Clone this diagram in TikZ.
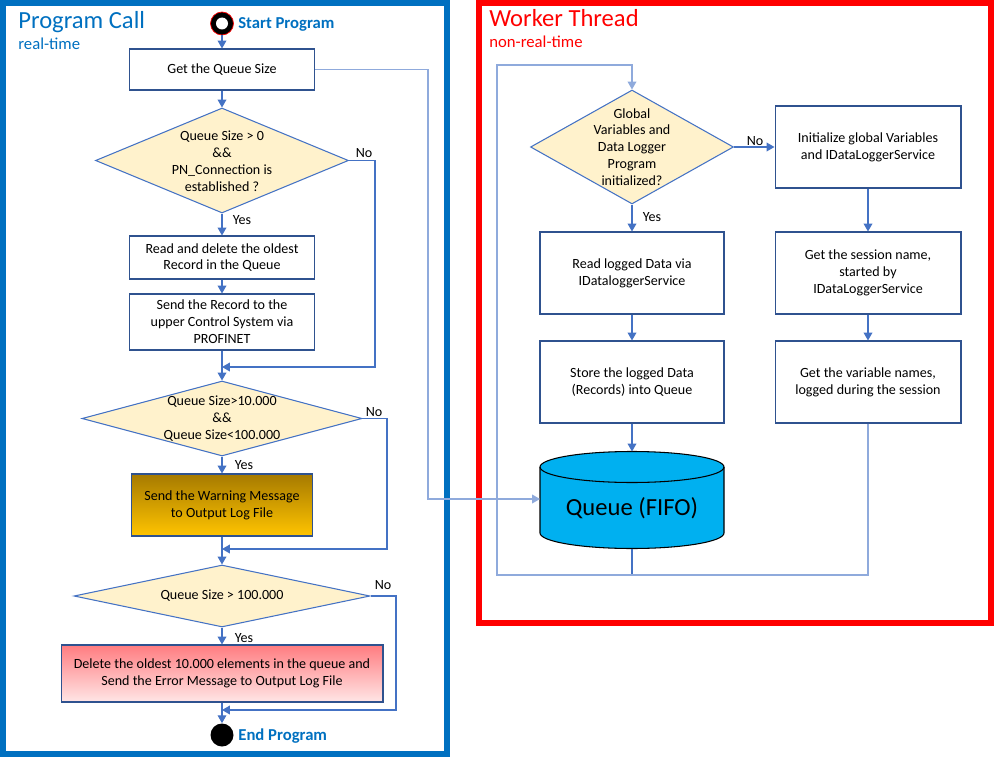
\documentclass[tikz,border=0pt]{standalone}
\usepackage{fontspec}
\setmainfont{Carlito}
\usepackage{tikz}
\usetikzlibrary{shapes,arrows,positioning,calc,arrows.meta}

\definecolor{flowblue}{HTML}{4472C4}
\definecolor{lightflow}{HTML}{8FAADC}
\definecolor{boxline}{HTML}{2F528F}
\definecolor{decfill}{HTML}{FFF2CC}
\definecolor{titleblue}{HTML}{0070C0}
\definecolor{qblue}{HTML}{00B0F0}
\definecolor{warntop}{HTML}{A67A00}
\definecolor{warnbot}{HTML}{FFC400}
\definecolor{errtop}{HTML}{FF7C80}
\definecolor{errbot}{HTML}{FFE6E6}

\begin{document}
\begin{tikzpicture}[x=0.02cm, y=0.02cm,
    every node/.style={font=\fontsize{8}{9.6}\selectfont, align=center},
    box/.style={draw=boxline, line width=0.6pt, inner sep=2pt},
    decision/.style={diamond, draw=flowblue, fill=decfill, line width=0.6pt, inner sep=0pt},
    flow/.style={draw=flowblue, line width=0.6pt, -{Triangle[length=4.5pt,width=5pt]}},
    link/.style={draw=flowblue, line width=0.6pt},
    title/.style={inner sep=0pt, anchor=base west, font=\fontsize{14}{16}\selectfont},
    subtitle/.style={inner sep=0pt, anchor=base west, font=\fontsize{9.5}{11}\selectfont},
    terminal/.style={inner sep=0pt, anchor=base west, text=titleblue, font=\bfseries\fontsize{9.5}{11}\selectfont}]
    \useasboundingbox (0,0) rectangle (997,-757);

    % Frames
    \draw[titleblue, line width=3.4pt] (3,-3) rectangle (447,-754);
    \draw[red, line width=3.4pt] (479,-3) rectangle (991,-623);
    \node[title, text=titleblue] (pctitle) at (18,-29) {Program Call};
    \node[subtitle, text=titleblue] (pcsub) at (18,-50) {real-time};
    \node[title, text=red] (wttitle) at (489,-27) {Worker Thread};
    \node[subtitle, text=red] (wtsub) at (489,-48) {non-real-time};

    % Program call
    \node[circle, draw=red, fill=black, minimum size=0.46cm, inner sep=0pt,
          path picture={\fill[white] (path picture bounding box.center) circle (0.12cm);}] (start) at (222,-23.5) {};
    \node[terminal] (starttxt) at (238,-29) {Start Program};
    \node[box, minimum width=3.7cm, minimum height=0.82cm] (qsize) at (222,-69.5) {Get the Queue Size};
    \node[decision, minimum width=5.06cm, minimum height=2.1cm] (d1) at (222,-160.5) {};
    \node (d1text) at (222,-161.5) {Queue Size > 0\\\&\&\\PN\_Connection is\\established ?};
    \node[box, minimum width=3.7cm, minimum height=0.86cm] (rdel) at (222,-257.5) {Read and delete the oldest\\Record in the Queue};
    \node[box, minimum width=3.7cm, minimum height=1.12cm] (send) at (222,-322) {Send the Record to the\\upper Control System via\\PROFINET};
    \node[decision, minimum width=5.6cm, minimum height=1.5cm] (d2) at (222,-418.5) {};
    \node (d2text) at (222,-418.5) {Queue Size>10.000\\\&\&\\Queue Size<100.000};
    \node[box, top color=warntop, bottom color=warnbot, minimum width=3.62cm, minimum height=1.24cm] (warn) at (222,-505) {Send the Warning Message\\to Output Log File};
    \node[decision, minimum width=5.92cm, minimum height=1.24cm] (d3) at (222,-596) {};
    \node (d3text) at (222,-596) {Queue Size > 100.000};
    \node[box, top color=errtop, bottom color=errbot, minimum width=6.44cm, minimum height=1.14cm] (err) at (222,-673.5) {Delete the oldest 10.000 elements in the queue and\\Send the Error Message to Output Log File};
    \node[circle, fill=black, minimum size=0.46cm, inner sep=0pt] (endc) at (222,-735) {};
    \node[terminal] (endtxt) at (238,-740) {End Program};

    \coordinate (m1) at (222,-367);
    \coordinate (m2) at (222,-549);
    \coordinate (m3) at (222,-710);

    \draw[flow] (start) -- (qsize);
    \draw[flow] (qsize) -- (d1);
    \draw[flow] (d1) -- (rdel);
    \draw[flow] (rdel) -- (send);
    \draw[flow] (send) -- (d2);
    \draw[flow] (d1.east) -- (375,-160.5) |- (m1);
    \draw[flow] (d2) -- (warn);
    \draw[flow] (warn) -- (d3);
    \draw[flow] (d2.east) -- (387,-418.5) |- (m2);
    \draw[flow] (d3) -- (err);
    \draw[flow] (err) -- (endc);
    \draw[flow] (d3.east) -- (396,-596) |- (m3);
    \node (no1) at (364,-153) {No};
    \node (yes1) at (242,-220) {Yes};
    \node (no2) at (374,-412) {No};
    \node (yes2) at (244,-465) {Yes};
    \node (no3) at (383,-585) {No};
    \node (yes3) at (244,-638) {Yes};

    % Worker thread
    \node[decision, minimum width=4.06cm, minimum height=2.28cm] (dw) at (632,-147) {};
    \node (dwtext) at (632,-147) {Global\\Variables and\\Data Logger\\Program\\initialized?};
    \node[box, minimum width=3.72cm, minimum height=1.64cm] (init) at (868,-147) {Initialize global Variables\\and IDataLoggerService};
    \node[box, minimum width=3.72cm, minimum height=1.64cm] (sess) at (868,-273) {Get the session name,\\started by\\IDataLoggerService};
    \node[box, minimum width=3.72cm, minimum height=1.64cm] (vars) at (868,-382) {Get the variable names,\\logged during the session};
    \node[box, minimum width=3.68cm, minimum height=1.64cm] (rlog) at (632,-273) {Read logged Data via\\IDataloggerService};
    \node[box, minimum width=3.68cm, minimum height=1.64cm] (store) at (632,-382) {Store the logged Data\\(Records) into Queue};

    % Queue cylinder
    \filldraw[fill=qblue, draw=black, line width=0.6pt] (540,-467) -- (540,-533)
        arc[start angle=180, end angle=360, x radius=92, y radius=15.5] -- (724,-467)
        arc[start angle=0, end angle=180, x radius=92, y radius=15.5] -- cycle;
    \draw[black, line width=0.6pt] (540,-467) arc[start angle=180, end angle=360, x radius=92, y radius=15.5];
    \node[font=\fontsize{14}{16}\selectfont] (queue) at (632,-508) {Queue (FIFO)};
    \coordinate (qtop) at (632,-451.5);
    \coordinate (qbot) at (632,-548.5);
    \coordinate (qin) at (540,-499);

    \draw[flow] (dw) -- (rlog);
    \draw[flow] (dw) -- (init);
    \draw[flow] (init) -- (sess);
    \draw[flow] (sess) -- (vars);
    \draw[flow] (rlog) -- (store);
    \draw[flow] (store) -- (qtop);
    \draw[link] (qbot) -- (632,-575);
    \draw[flow, draw=lightflow] (vars.south) -- (868,-575) -- (497,-575) -- (497,-65) -| (dw.north);
    \draw[flow, draw=lightflow] (qsize.east) -- (428,-69.5) |- (qin);
    \node (now) at (755,-141) {No};
    \node (yesw) at (652,-217) {Yes};
\end{tikzpicture}
\end{document}
